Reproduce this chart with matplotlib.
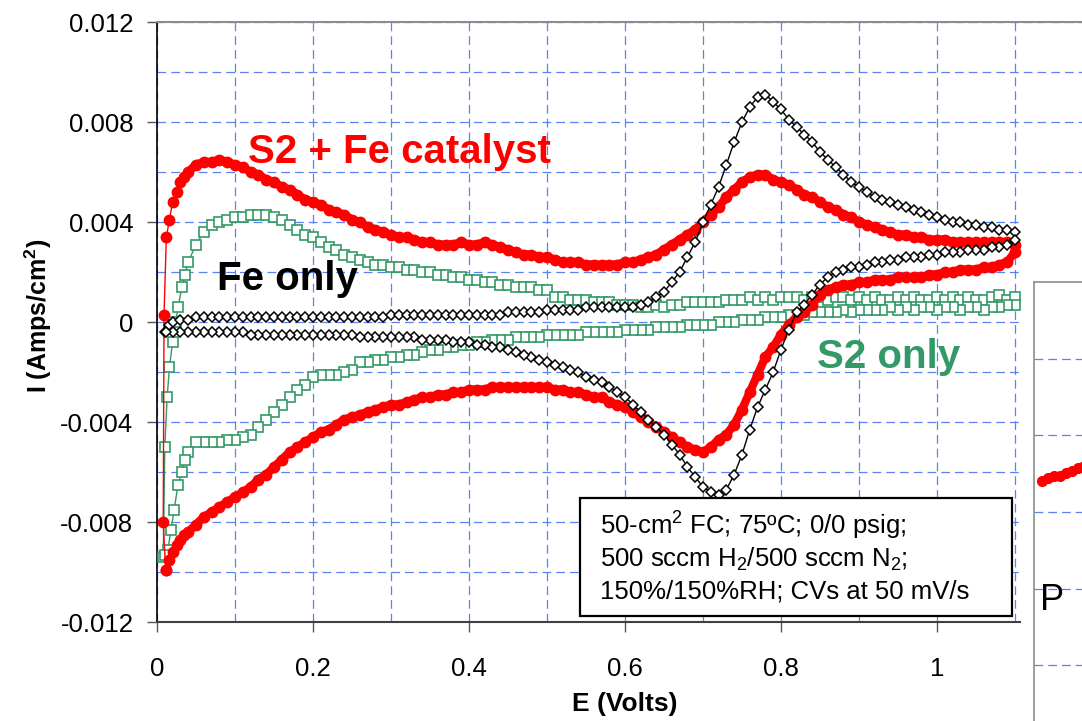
import matplotlib.pyplot as plt
from matplotlib.patches import Rectangle

plt.rcParams['font.family'] = ['Liberation Sans', 'DejaVu Sans']
plt.rcParams['mathtext.fontset'] = 'custom'
plt.rcParams['mathtext.rm'] = 'Liberation Sans'
plt.rcParams['mathtext.it'] = 'Liberation Sans:italic'
plt.rcParams['mathtext.bf'] = 'Liberation Sans:bold'

# Potential grid shared by every sweep (V)
sweep_e = [0.04, 0.05, 0.06, 0.07, 0.08, 0.09, 0.10, 0.11,
           0.12, 0.13, 0.14, 0.15, 0.16, 0.17, 0.18, 0.19, 0.20, 0.21,
           0.22, 0.23, 0.24, 0.25, 0.26, 0.27, 0.28, 0.29, 0.30, 0.31,
           0.32, 0.33, 0.34, 0.35, 0.36, 0.37, 0.38, 0.39, 0.40, 0.41,
           0.42, 0.43, 0.44, 0.45, 0.46, 0.47, 0.48, 0.49, 0.50, 0.51,
           0.52, 0.53, 0.54, 0.55, 0.56, 0.57, 0.58, 0.59, 0.60, 0.61,
           0.62, 0.63, 0.64, 0.65, 0.66, 0.67, 0.68, 0.69, 0.70, 0.71,
           0.72, 0.73, 0.74, 0.75, 0.76, 0.77, 0.78, 0.79, 0.80, 0.81,
           0.82, 0.83, 0.84, 0.85, 0.86, 0.87, 0.88, 0.89, 0.90, 0.91,
           0.92, 0.93, 0.94, 0.95, 0.96, 0.97, 0.98, 0.99, 1.00, 1.01,
           1.02, 1.03, 1.04, 1.05, 1.06, 1.07, 1.08, 1.09, 1.10]

# S2 + Fe catalyst (A/cm2)
red_start_e = [0.011, 0.008, 0.009, 0.012, 0.016, 0.020, 0.025, 0.030, 0.035]
red_start_i = [-0.0099, -0.0080, 0.0003, 0.0034, 0.0041, 0.0048, 0.0052, 0.0056, 0.0058]
red_fwd = [0.0060, 0.0063, 0.0064, 0.0064, 0.0065, 0.0064, 0.0063, 0.0062,
           0.0060, 0.0059, 0.0057, 0.0056, 0.0054, 0.0053, 0.0051, 0.0049, 0.0048, 0.0047,
           0.0045, 0.0044, 0.0043, 0.0041, 0.0040, 0.0038, 0.0037, 0.0036, 0.0035, 0.0034,
           0.0034, 0.0033, 0.0032, 0.0032, 0.0031, 0.0031, 0.0031, 0.0032, 0.0031, 0.0031,
           0.0032, 0.0031, 0.0030, 0.0029, 0.0028, 0.0027, 0.0027, 0.0026, 0.0026, 0.0025,
           0.0024, 0.0024, 0.0024, 0.0023, 0.0023, 0.0023, 0.0023, 0.0023, 0.0024, 0.0024,
           0.0025, 0.0026, 0.0027, 0.0029, 0.0031, 0.0033, 0.0035, 0.0037, 0.0040, 0.0043,
           0.0046, 0.0050, 0.0053, 0.0056, 0.0058, 0.0059, 0.0059, 0.0057, 0.0056, 0.0055,
           0.0053, 0.0051, 0.0050, 0.0048, 0.0046, 0.0045, 0.0043, 0.0042, 0.0040, 0.0039,
           0.0038, 0.0037, 0.0036, 0.0035, 0.0035, 0.0034, 0.0034, 0.0033, 0.0033, 0.0033,
           0.0032, 0.0032, 0.0032, 0.0032, 0.0032, 0.0032, 0.0032, 0.0032, 0.0031]
red_rev = [-0.0084, -0.0081, -0.0078, -0.0076, -0.0074, -0.0072, -0.0070, -0.0068,
           -0.0066, -0.0063, -0.0061, -0.0058, -0.0055, -0.0052, -0.0050, -0.0048, -0.0046, -0.0044,
           -0.0043, -0.0041, -0.0039, -0.0038, -0.0037, -0.0036, -0.0035, -0.0034, -0.0033, -0.0033,
           -0.0032, -0.0031, -0.0030, -0.0030, -0.0029, -0.0029, -0.0028, -0.0028, -0.0027, -0.0027,
           -0.0027, -0.0026, -0.0026, -0.0026, -0.0026, -0.0026, -0.0026, -0.0026, -0.0026, -0.0027,
           -0.0027, -0.0028, -0.0028, -0.0029, -0.0030, -0.0030, -0.0032, -0.0033, -0.0034, -0.0036,
           -0.0038, -0.0040, -0.0042, -0.0044, -0.0046, -0.0048, -0.0050, -0.0051, -0.0052, -0.0050,
           -0.0047, -0.0045, -0.0041, -0.0035, -0.0028, -0.0021, -0.0014, -0.0010, -0.0005, -0.0001,
           0.0002, 0.0004, 0.0007, 0.0011, 0.0013, 0.0014, 0.0015, 0.0015, 0.0016, 0.0016,
           0.0017, 0.0017, 0.0017, 0.0018, 0.0018, 0.0018, 0.0018, 0.0019, 0.0019, 0.0020,
           0.0020, 0.0021, 0.0021, 0.0021, 0.0022, 0.0022, 0.0023, 0.0024, 0.0028]
red_end_e = [0.035, 0.030, 0.025, 0.020, 0.015, 0.012]
red_end_i = [-0.0085, -0.0087, -0.0089, -0.0092, -0.0095, -0.0099]

# Fe only
blk_start_e = [0.010, 0.015, 0.020, 0.030]
blk_start_i = [-0.0004, -0.0001, 0.0000, 0.0001]
blk_fwd = [0.0001, 0.0002, 0.0002, 0.0002, 0.0002, 0.0002, 0.0002, 0.0002,
           0.0002, 0.0002, 0.0002, 0.0002, 0.0002, 0.0002, 0.0002, 0.0002, 0.0002, 0.0002,
           0.0002, 0.0002, 0.0002, 0.0002, 0.0002, 0.0002, 0.0002, 0.0002, 0.0003, 0.0003,
           0.0003, 0.0003, 0.0003, 0.0003, 0.0003, 0.0003, 0.0003, 0.0003, 0.0003, 0.0003,
           0.0003, 0.0003, 0.0003, 0.0004, 0.0004, 0.0004, 0.0004, 0.0004, 0.0005, 0.0005,
           0.0005, 0.0005, 0.0005, 0.0006, 0.0006, 0.0006, 0.0006, 0.0006, 0.0006, 0.0006,
           0.0007, 0.0008, 0.0010, 0.0012, 0.0016, 0.0020, 0.0026, 0.0032, 0.0040, 0.0047,
           0.0054, 0.0063, 0.0072, 0.0080, 0.0086, 0.0090, 0.0091, 0.0088, 0.0085, 0.0081,
           0.0078, 0.0075, 0.0072, 0.0068, 0.0065, 0.0062, 0.0059, 0.0056, 0.0054, 0.0052,
           0.0050, 0.0049, 0.0048, 0.0047, 0.0046, 0.0045, 0.0044, 0.0043, 0.0042, 0.0041,
           0.0040, 0.0040, 0.0039, 0.0039, 0.0038, 0.0038, 0.0037, 0.0037, 0.0036]
blk_rev = [-0.0004, -0.0004, -0.0004, -0.0004, -0.0004, -0.0004, -0.0004, -0.0004,
           -0.0005, -0.0005, -0.0005, -0.0005, -0.0005, -0.0005, -0.0005, -0.0005, -0.0005, -0.0005,
           -0.0005, -0.0005, -0.0005, -0.0005, -0.0006, -0.0006, -0.0006, -0.0006, -0.0006, -0.0006,
           -0.0006, -0.0006, -0.0007, -0.0007, -0.0007, -0.0007, -0.0008, -0.0008, -0.0008, -0.0009,
           -0.0009, -0.0010, -0.0010, -0.0011, -0.0012, -0.0013, -0.0014, -0.0015, -0.0016, -0.0017,
           -0.0018, -0.0019, -0.0020, -0.0022, -0.0023, -0.0024, -0.0026, -0.0028, -0.0030, -0.0033,
           -0.0036, -0.0039, -0.0042, -0.0045, -0.0049, -0.0053, -0.0058, -0.0062, -0.0066, -0.0068,
           -0.0069, -0.0067, -0.0061, -0.0053, -0.0043, -0.0034, -0.0027, -0.0020, -0.0011, -0.0003,
           0.0004, 0.0007, 0.0011, 0.0015, 0.0018, 0.0020, 0.0021, 0.0022, 0.0022, 0.0023,
           0.0024, 0.0024, 0.0025, 0.0025, 0.0026, 0.0026, 0.0026, 0.0027, 0.0027, 0.0028,
           0.0028, 0.0028, 0.0029, 0.0029, 0.0029, 0.0030, 0.0030, 0.0031, 0.0033]
blk_end_e = [0.030, 0.020, 0.012]
blk_end_i = [-0.0004, -0.0004, -0.0004]

# S2 only
grn_start_e = [0.008, 0.010, 0.013, 0.016, 0.020, 0.024, 0.027, 0.032, 0.036]
grn_start_i = [-0.0094, -0.0050, -0.0030, -0.0018, -0.0008, 0.0000, 0.0006, 0.0014, 0.0019]
grn_fwd = [0.0024, 0.0031, 0.0036, 0.0039, 0.0040, 0.0041, 0.0042, 0.0042,
           0.0043, 0.0043, 0.0043, 0.0042, 0.0041, 0.0039, 0.0037, 0.0035, 0.0034, 0.0032,
           0.0030, 0.0029, 0.0027, 0.0026, 0.0025, 0.0024, 0.0023, 0.0023, 0.0022, 0.0022,
           0.0021, 0.0021, 0.0020, 0.0020, 0.0019, 0.0019, 0.0018, 0.0018, 0.0017, 0.0017,
           0.0016, 0.0016, 0.0015, 0.0015, 0.0014, 0.0014, 0.0014, 0.0013, 0.0013, 0.0010,
           0.0010, 0.0009, 0.0009, 0.0009, 0.0008, 0.0008, 0.0008, 0.0007, 0.0007, 0.0007,
           0.0006, 0.0006, 0.0007, 0.0006, 0.0007, 0.0007, 0.0008, 0.0008, 0.0008, 0.0008,
           0.0008, 0.0009, 0.0009, 0.0009, 0.0010, 0.0009, 0.0010, 0.0009, 0.0010, 0.0010,
           0.0010, 0.0009, 0.0010, 0.0010, 0.0009, 0.0010, 0.0010, 0.0009, 0.0010, 0.0009,
           0.0010, 0.0009, 0.0009, 0.0010, 0.0009, 0.0010, 0.0009, 0.0009, 0.0010, 0.0009,
           0.0010, 0.0009, 0.0010, 0.0009, 0.0009, 0.0010, 0.0011, 0.0009, 0.0010]
grn_rev = [-0.0052, -0.0048, -0.0048, -0.0048, -0.0048, -0.0047, -0.0047, -0.0046,
           -0.0045, -0.0042, -0.0039, -0.0036, -0.0033, -0.0030, -0.0027, -0.0025, -0.0022, -0.0021,
           -0.0021, -0.0021, -0.0020, -0.0019, -0.0016, -0.0016, -0.0015, -0.0015, -0.0014, -0.0014,
           -0.0013, -0.0013, -0.0012, -0.0011, -0.0011, -0.0010, -0.0010, -0.0009, -0.0009, -0.0008,
           -0.0008, -0.0007, -0.0007, -0.0007, -0.0006, -0.0006, -0.0006, -0.0006, -0.0005, -0.0005,
           -0.0005, -0.0005, -0.0005, -0.0004, -0.0004, -0.0004, -0.0004, -0.0004, -0.0003, -0.0003,
           -0.0003, -0.0003, -0.0002, -0.0002, -0.0002, -0.0002, -0.0001, -0.0001, -0.0001, -0.0001,
           0.0000, 0.0000, 0.0000, 0.0001, 0.0001, 0.0001, 0.0002, 0.0002, 0.0002, 0.0003,
           0.0003, 0.0003, 0.0004, 0.0004, 0.0004, 0.0004, 0.0005, 0.0004, 0.0005, 0.0005,
           0.0005, 0.0005, 0.0006, 0.0005, 0.0006, 0.0005, 0.0006, 0.0006, 0.0005, 0.0006,
           0.0006, 0.0005, 0.0006, 0.0006, 0.0005, 0.0006, 0.0006, 0.0007, 0.0007]
grn_end_e = [0.036, 0.032, 0.027, 0.022, 0.018, 0.014, 0.010]
grn_end_i = [-0.0055, -0.0060, -0.0065, -0.0075, -0.0083, -0.0091, -0.0093]

x_ticks = [0, 0.2, 0.4, 0.6, 0.8, 1.0]
x_labels = ['0', '0.2', '0.4', '0.6', '0.8', '1']
y_ticks = [-0.012, -0.008, -0.004, 0, 0.004, 0.008, 0.012]
y_labels = ['-0.012', '-0.008', '-0.004', '0', '0.004', '0.008', '0.012']

# partly hidden neighbour panel on the right
side_x = [0.04, 0.07, 0.10, 0.13, 0.16, 0.19, 0.22, 0.25]
side_y = [3.41, 3.44, 3.47, 3.47, 3.51, 3.54, 3.57, 3.60]

RED = '#ff0000'
GREEN = '#339966'
GRID = '#5a82f2'


def cv_loop(start_e, start_i, fwd, rev, end_e, end_i):
    e = start_e + sweep_e + sweep_e[::-1] + end_e
    i = start_i + fwd + rev[::-1] + end_i
    return e, i


W, H = 1082, 721
fig = plt.figure(figsize=(W / 100, H / 100), dpi=100)
ax = fig.add_axes([157 / W, 99 / H, (W - 157) / W, 600 / H])
ax.set_xlim(0, (W - 157) / 780)
ax.set_ylim(-0.012, 0.012)

ax.set_xticks(x_ticks)
ax.set_xticklabels(x_labels)
ax.set_xticks([0.1, 0.3, 0.5, 0.7, 0.9, 1.1], minor=True)
ax.set_yticks(y_ticks)
ax.set_yticklabels(y_labels)
ax.set_yticks([-0.01, -0.006, -0.002, 0.002, 0.006, 0.01], minor=True)
ax.tick_params(which='major', direction='out', length=7, width=1, color='#555555',
               labelsize=18.5)
ax.tick_params(axis='x', pad=18)
ax.tick_params(axis='y', pad=10)
ax.tick_params(which='minor', length=0)
ax.set_axisbelow(True)
ax.grid(True, which='both', color=GRID, linestyle=(0, (7, 4)), linewidth=0.9)

ax.spines['right'].set_visible(False)
ax.spines['top'].set_color('#8c8c8c')
ax.spines['top'].set_linewidth(1.5)
ax.spines['left'].set_color('black')
ax.spines['left'].set_linewidth(1.2)
ax.spines['bottom'].set_color('#404040')
ax.spines['bottom'].set_linewidth(1.5)
ax.spines['bottom'].set_bounds(0, 1.106)

# blank out the grid to the right of the plot, below the 0.004 line
ax.add_patch(Rectangle((1.106, -0.013), 0.2, 0.018, facecolor='white',
                       edgecolor='none', zorder=0.9))

e, i = cv_loop(grn_start_e, grn_start_i, grn_fwd, grn_rev, grn_end_e, grn_end_i)
ax.plot(e, i, color=GREEN, lw=1, marker='s', ms=7, mfc='white', mec=GREEN,
        mew=1.2, zorder=3)

# dense red sweep: a thick band under the dots, thin line at the vertical jump
ax.plot(sweep_e + sweep_e[::-1], red_fwd + red_rev[::-1], color=RED, lw=6,
        solid_capstyle='round', solid_joinstyle='round', zorder=4)
e, i = cv_loop(red_start_e, red_start_i, red_fwd, red_rev, red_end_e, red_end_i)
ax.plot(e, i, color=RED, lw=1, marker='o', ms=7.5, mfc=RED, mec=RED, zorder=4)

e, i = cv_loop(blk_start_e, blk_start_i, blk_fwd, blk_rev, blk_end_e, blk_end_i)
ax.plot(e, i, color='black', lw=1.0, marker='D', ms=5.5, mfc='white', mec='black',
        mew=1.1, zorder=5)

ax.text(0.117, 0.00636, 'S2 + Fe catalyst', color=RED, fontsize=29,
        fontweight='bold', va='baseline', zorder=6)
ax.text(0.077, 0.00128, 'Fe only', color='black', fontsize=29,
        fontweight='bold', va='baseline', zorder=6)
ax.text(0.846, -0.00184, 'S2 only', color=GREEN, fontsize=29,
        fontweight='bold', va='baseline', zorder=6)

fig.text(38 / W, 1 - 316 / H, r'I (Amps/cm$^{\mathbf{2}}$)', rotation=90,
         fontsize=18, fontweight='bold', ha='center', va='center')
fig.text(625 / W, 1 - 704 / H, 'E (Volts)', fontsize=19, fontweight='bold',
         ha='center', va='center')

# conditions box
fig.patches.append(Rectangle((580 / W, 1 - 616 / H), 432 / W, 118 / H,
                             transform=fig.transFigure, facecolor='white',
                             edgecolor='black', linewidth=1.6, zorder=10))
box_lines = [r'50-cm$^2$ FC; 75ºC; 0/0 psig;',
             r'500 sccm H$_2$/500 sccm N$_2$;',
             '150%/150%RH; CVs at 50 mV/s']
for k, line in enumerate(box_lines):
    fig.text(600 / W, 1 - (535 + 32 * k) / H, line, fontsize=18.5,
             va='baseline', ha='left', zorder=11)

# neighbouring panel, cut off by the figure edge
side = fig.add_axes([1034 / W, 1 - 742 / H, 200 / W, 460 / H])
side.set_xlim(0, 1)
side.set_ylim(0, 6)
side.set_xticks([])
side.set_yticks([1, 2, 3, 4, 5])
side.tick_params(length=0, labelleft=False)
side.grid(True, axis='y', color=GRID, linestyle=(0, (7, 4)), linewidth=0.9)
for s in ['right', 'bottom']:
    side.spines[s].set_visible(False)
for s in ['left', 'top']:
    side.spines[s].set_color('#8c8c8c')
    side.spines[s].set_linewidth(1.2)
side.plot(side_x, side_y, color=RED, lw=5, marker='o', ms=7, mfc=RED, mec=RED)
side.text(0.03, 1.72, 'P', fontsize=26, va='baseline')

fig.savefig('out.png', dpi=100)
